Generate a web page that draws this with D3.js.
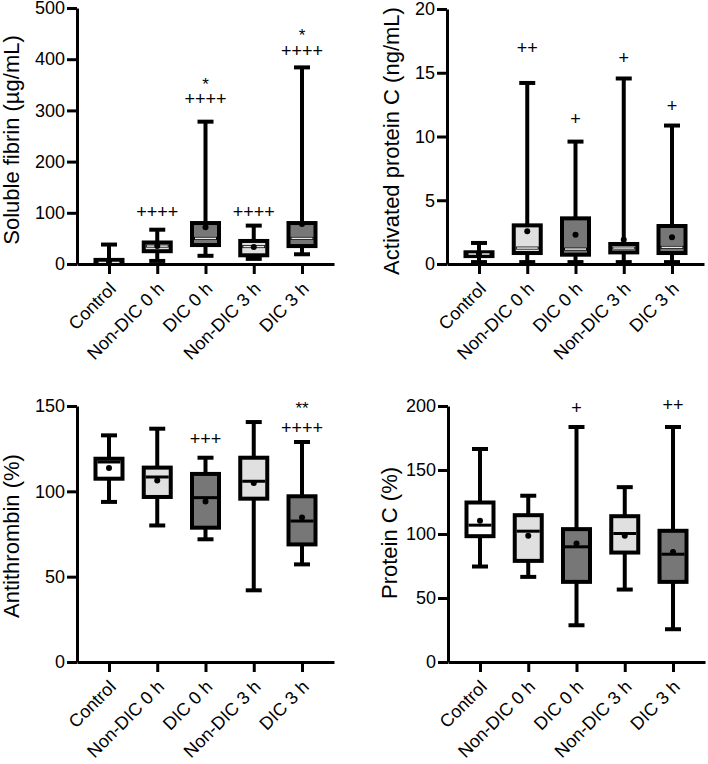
<!DOCTYPE html>
<html>
<head>
<meta charset="utf-8">
<script src="https://cdn.jsdelivr.net/npm/d3@7"></script>
<style>
  body { margin: 0; background: #fff; }
  text { font-family: Arial, "Liberation Sans", sans-serif; fill: #000; }
</style>
</head>
<body>
<div id="chart"></div>
<script>
// Groups on the x axis
let groups = ["Control", "Non-DIC 0 h", "DIC 0 h", "Non-DIC 3 h", "DIC 3 h"];
let groupFill = ["#ffffff", "#e0e0e0", "#777777", "#e0e0e0", "#777777"];

// Soluble fibrin (µg/mL)
let sfMin  = [0, 6, 16, 10, 19];
let sfQ1   = [0, 25, 37, 17, 35];
let sfMed  = [3, 35, 50, 34, 50];
let sfQ3   = [8, 42, 80, 45, 80];
let sfMax  = [38, 67, 278, 75, 384];
let sfMean = [5, 35, 72, 33, 78];
let sfTicks = [0, 100, 200, 300, 400, 500];
let sfNoteGroup = ["Non-DIC 0 h", "DIC 0 h", "DIC 0 h", "Non-DIC 3 h", "DIC 3 h", "DIC 3 h"];
let sfNoteText  = ["++++", "++++", "*", "++++", "++++", "*"];
let sfNoteY     = [103, 322, 359, 103, 417, 455];

// Activated protein C (ng/mL)
let apcMin  = [0.15, 0.15, 0.15, 0.15, 0.15];
let apcQ1   = [0.62, 0.86, 0.73, 0.91, 0.86];
let apcMed  = [0.78, 1.25, 1.17, 1.25, 1.3];
let apcQ3   = [0.92, 3.03, 3.58, 1.57, 2.98];
let apcMax  = [1.65, 14.2, 9.6, 14.55, 10.86];
let apcMean = [0.8, 2.56, 2.3, 1.9, 2.09];
let apcTicks = [0, 5, 10, 15, 20];
let apcNoteGroup = ["Non-DIC 0 h", "DIC 0 h", "Non-DIC 3 h", "DIC 3 h"];
let apcNoteText  = ["++", "+", "+", "+"];
let apcNoteY     = [17.0, 11.4, 16.2, 12.4];

// Antithrombin (%)
let atMin  = [93.8, 80, 71.9, 42, 57.2];
let atQ1   = [107.4, 96.7, 78.7, 95.7, 68.9];
let atMed  = [117.2, 108.4, 96.3, 105.9, 82.6];
let atQ3   = [119.1, 113.9, 110.2, 119.7, 97.1];
let atMax  = [132.8, 136.7, 119.7, 140.6, 128.9];
let atMean = [113.7, 106.4, 94.1, 104.9, 84.6];
let atTicks = [0, 50, 100, 150];
let atNoteGroup = ["DIC 0 h", "DIC 3 h", "DIC 3 h"];
let atNoteText  = ["+++", "++++", "**"];
let atNoteY     = [130.9, 137.1, 151.5];

// Protein C (%)
let pcMin  = [74.6, 66.5, 28.7, 56.6, 25.6];
let pcQ1   = [98.3, 79, 62.6, 85.5, 62.6];
let pcMed  = [106.9, 102.2, 90, 100.4, 84.2];
let pcQ3   = [124.6, 114.7, 103.8, 113.9, 102.5];
let pcMax  = [166.4, 129.9, 183.6, 136.6, 183.6];
let pcMean = [110.3, 98.6, 92.6, 98.6, 86];
let pcTicks = [0, 50, 100, 150, 200];
let pcNoteGroup = ["DIC 0 h", "DIC 3 h"];
let pcNoteText  = ["+", "++"];
let pcNoteY     = [198.7, 200.8];

// Build rows for each panel
function rows(min, q1, med, q3, max, mean) {
    return groups.map((g, i) => ({
        group: g, fill: groupFill[i],
        min: min[i], q1: q1[i], med: med[i], q3: q3[i], max: max[i], mean: mean[i]
    }));
}
function notes(gs, ts, ys) {
    return gs.map((g, i) => ({ group: g, text: ts[i], y: ys[i] }));
}

// Panel placement
let panels = [
    { left: 77,  top: 8,   bottom: 264, ticks: sfTicks,  title: "Soluble fibrin (µg/mL)",
      titleX: 11, titleY: 140, lightMedian: true,
      data: rows(sfMin, sfQ1, sfMed, sfQ3, sfMax, sfMean), notes: notes(sfNoteGroup, sfNoteText, sfNoteY) },
    { left: 447, top: 9,   bottom: 264, ticks: apcTicks, title: "Activated protein C (ng/mL)",
      titleX: 391, titleY: 141, lightMedian: true,
      data: rows(apcMin, apcQ1, apcMed, apcQ3, apcMax, apcMean), notes: notes(apcNoteGroup, apcNoteText, apcNoteY) },
    { left: 77,  top: 406, bottom: 662, ticks: atTicks,  title: "Antithrombin (%)",
      titleX: 11, titleY: 536, lightMedian: false,
      data: rows(atMin, atQ1, atMed, atQ3, atMax, atMean), notes: notes(atNoteGroup, atNoteText, atNoteY) },
    { left: 448, top: 406, bottom: 662, ticks: pcTicks,  title: "Protein C (%)",
      titleX: 389, titleY: 533, lightMedian: false,
      data: rows(pcMin, pcQ1, pcMed, pcQ3, pcMax, pcMean), notes: notes(pcNoteGroup, pcNoteText, pcNoteY) }
];

let boxW = 31, capW = 14, lineW = 4;

let svg = d3.select('#chart')
            .append('svg')
            .attr('width', 708)
            .attr('height', 764);

panels.forEach(p => {
    let g = svg.append('g');

    let yScale = d3.scaleLinear()
                    .domain([p.ticks[0], p.ticks[p.ticks.length - 1]])
                    .range([p.bottom, p.top]);
    let xScale = d3.scalePoint()
                    .domain(groups)
                    .range([p.left, p.left + 257])
                    .padding(0.663);

    // Boxes
    let box = g.selectAll('g.box')
               .data(p.data)
               .enter()
               .append('g')
               .attr('class', 'box')
               .attr('transform', d => `translate(${xScale(d.group)},0)`);

    box.append('line')
       .attr('y1', d => yScale(d.min))
       .attr('y2', d => yScale(d.max))
       .attr('stroke', '#000')
       .attr('stroke-width', lineW);

    ['min', 'max'].forEach(k => {
        box.append('line')
           .attr('x1', -capW / 2 - 1).attr('x2', capW / 2 + 1)
           .attr('y1', d => yScale(d[k]))
           .attr('y2', d => yScale(d[k]))
           .attr('stroke', '#000')
           .attr('stroke-width', lineW);
    });

    box.append('rect')
       .attr('x', -boxW / 2 + 2)
       .attr('width', boxW - 4)
       .attr('y', d => yScale(d.q3))
       .attr('height', d => Math.max(0.5, yScale(d.q1) - yScale(d.q3)))
       .attr('fill', d => d.fill)
       .attr('stroke', '#000')
       .attr('stroke-width', lineW);

    box.append('line')
       .attr('x1', -boxW / 2 + 4).attr('x2', boxW / 2 - 4)
       .attr('y1', d => yScale(d.med))
       .attr('y2', d => yScale(d.med))
       .attr('stroke', '#000')
       .attr('stroke-width', 3);

    if (p.lightMedian) {
        box.append('line')
           .attr('x1', -boxW / 2 + 5).attr('x2', boxW / 2 - 5)
           .attr('y1', d => yScale(d.med))
           .attr('y2', d => yScale(d.med))
           .attr('stroke', '#e8e8e8')
           .attr('stroke-width', 1.5);
    }

    box.append('circle')
       .attr('cy', d => yScale(d.mean))
       .attr('r', 3)
       .attr('fill', '#000');

    // Significance marks
    g.selectAll('text.note')
     .data(p.notes)
     .enter()
     .append('text')
     .attr('class', 'note')
     .attr('x', d => xScale(d.group))
     .attr('y', d => yScale(d.y))
     .attr('dy', d => d.text.indexOf('*') >= 0 ? '0.6em' : '0.35em')
     .attr('text-anchor', 'middle')
     .style('font-size', d => d.text.indexOf('*') >= 0 ? '17px' : '18px')
     .text(d => d.text);

    // Axes
    let yAxis = d3.axisLeft(yScale)
                  .tickValues(p.ticks)
                  .tickSize(10)
                  .tickSizeOuter(0)
                  .tickPadding(2);
    let ya = g.append('g')
              .attr('transform', `translate(${p.left},0)`)
              .call(yAxis);

    let xAxis = d3.axisBottom(xScale)
                  .tickSize(10)
                  .tickSizeOuter(0)
                  .tickFormat('');
    let xa = g.append('g')
              .attr('transform', `translate(0,${p.bottom})`)
              .call(xAxis);

    [ya, xa].forEach(a => {
        a.select('.domain').attr('stroke', '#000').attr('stroke-width', 3);
        a.selectAll('.tick line').attr('stroke', '#000').attr('stroke-width', 3);
    });
    ya.selectAll('.tick text')
      .attr('fill', '#000')
      .style('font-size', '18px')
      .style('font-family', 'Arial, "Liberation Sans", sans-serif');

    g.selectAll('text.xlab')
     .data(groups)
     .enter()
     .append('text')
     .attr('class', 'xlab')
     .attr('transform', d => `translate(${xScale(d) + 8},${p.bottom + 26}) rotate(-45)`)
     .attr('text-anchor', 'end')
     .style('font-size', '18px')
     .text(d => d);

    g.append('text')
     .attr('transform', `translate(${p.titleX},${p.titleY}) rotate(-90)`)
     .attr('dy', '0.35em')
     .attr('text-anchor', 'middle')
     .style('font-size', '22px')
     .text(p.title);
});
</script>
</body>
</html>
